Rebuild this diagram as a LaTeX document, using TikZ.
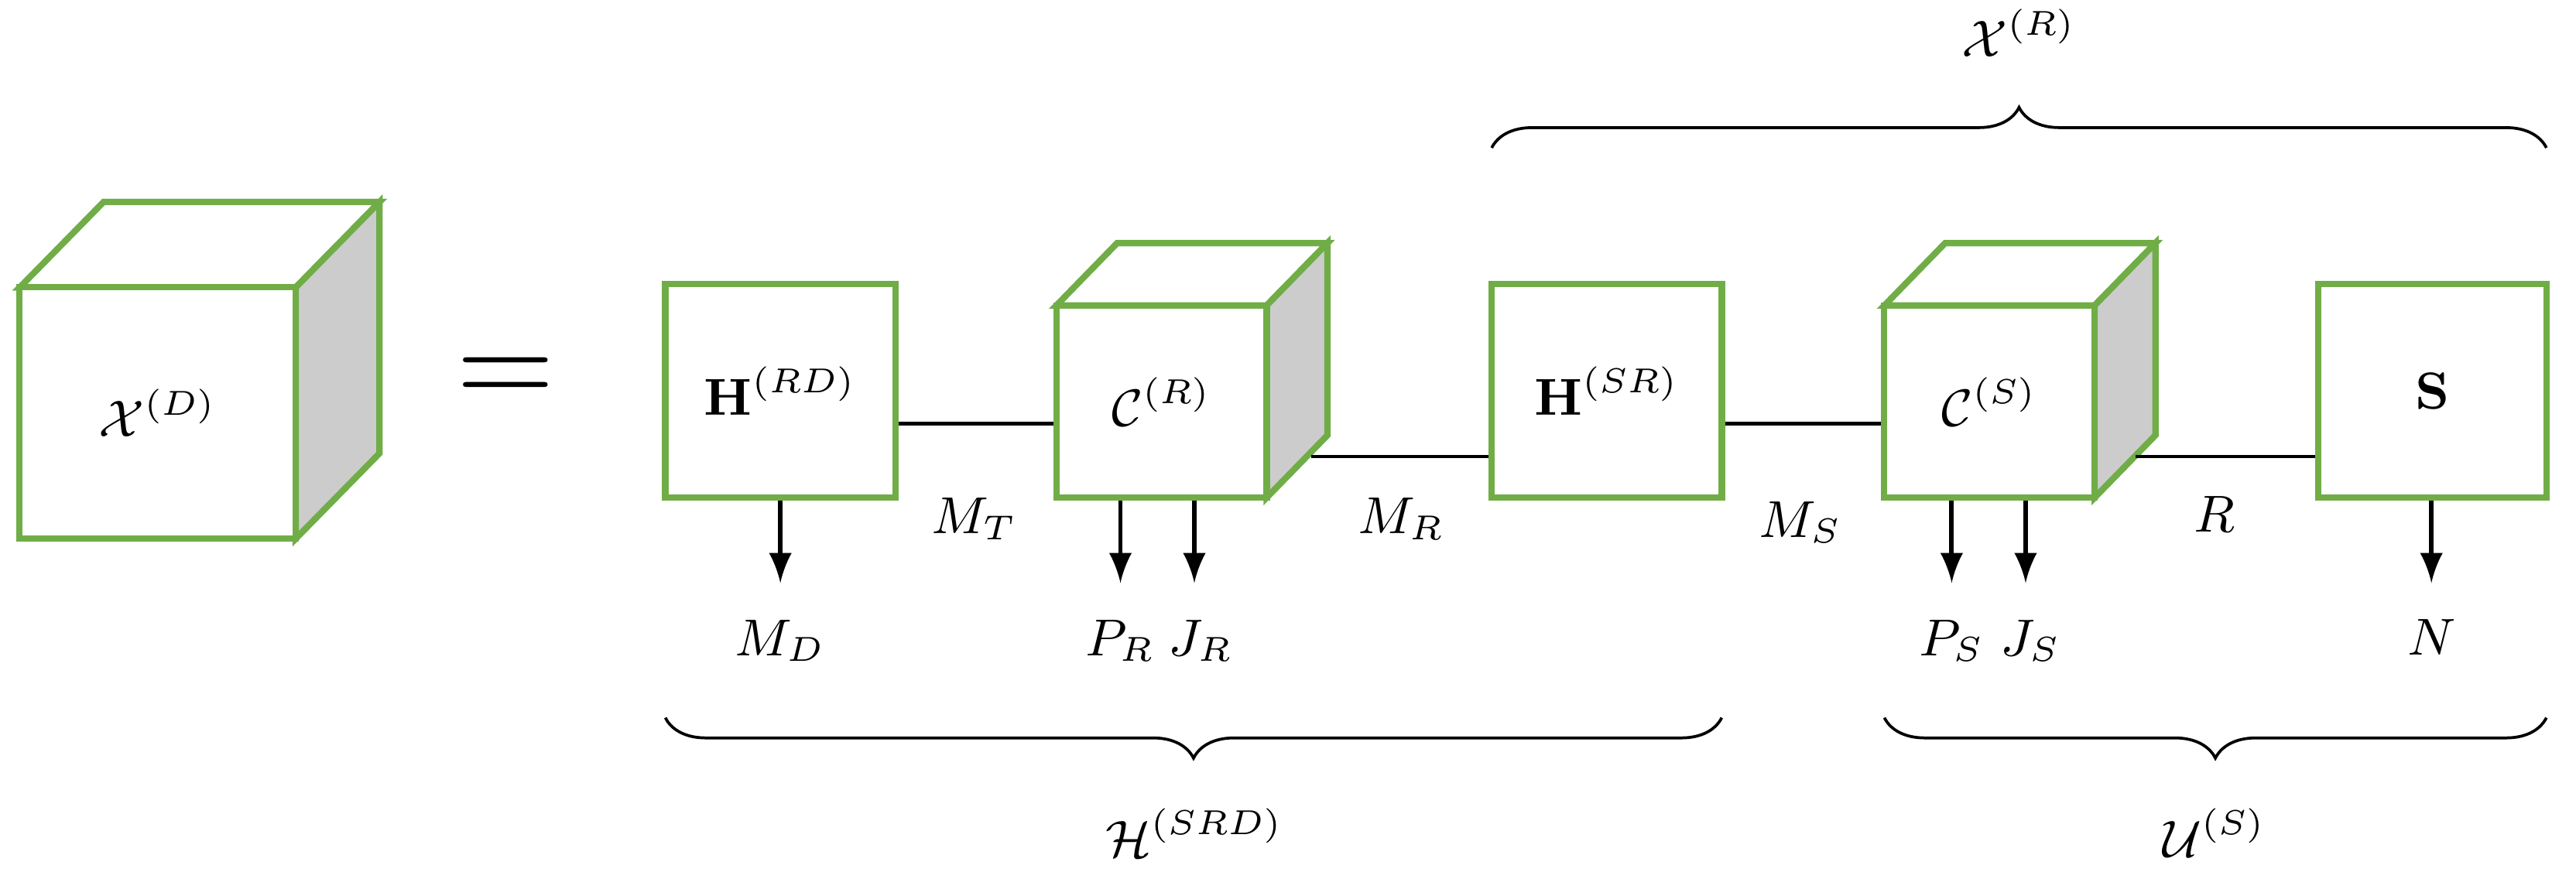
\documentclass[tikz,border=0pt]{standalone}
\usetikzlibrary{decorations.pathreplacing,calc}
\definecolor{grn}{RGB}{112,173,71}
\definecolor{gry}{RGB}{204,204,204}
\begin{document}
\begin{tikzpicture}[x=0.01cm,y=-0.01cm,
  box/.style={draw=grn,line width=1.1pt,fill=white,minimum width=#1,inner sep=0pt},
  face/.style={draw=grn,line width=1.1pt,line join=miter},
  arr/.style={-latex,line width=0.8pt},
  br/.style={decorate,decoration={brace,amplitude=7pt,aspect=0.5},line width=0.5pt},
  lab/.style={inner sep=1pt,font=\small}]
\useasboundingbox (0,0) rectangle (1568,535);
% big cube
\draw[face,fill=white] (12,175) -- (63,123) -- (231,123) -- (180,175) -- cycle;
\draw[face,fill=gry] (180,175) -- (231,123) -- (231,276) -- (180,328) -- cycle;
\node[box=1.68cm,minimum height=1.53cm] (XD) at (96,251.5) {};
\node[font=\small] at (XD) {$\mathcal{X}^{(D)}$};
\node[scale=2.2] (eq) at (308,232) {$=$};
% H(RD)
\node[box=1.40cm,minimum height=1.30cm,font=\small] (HRD) at (475,238) {$\mathbf{H}^{(RD)}$};
% C(R)
\draw[face,fill=white] (643,186) -- (680,148) -- (808,148) -- (771,186) -- cycle;
\draw[face,fill=gry] (771,186) -- (808,148) -- (808,265) -- (771,303) -- cycle;
\node[box=1.28cm,minimum height=1.17cm,font=\small] (CR) at (707,244.5) {$\mathcal{C}^{(R)}$};
% H(SR)
\node[box=1.40cm,minimum height=1.30cm,font=\small] (HSR) at (978,238) {$\mathbf{H}^{(SR)}$};
% C(S)
\draw[face,fill=white] (1147,186) -- (1184,148) -- (1312,148) -- (1275,186) -- cycle;
\draw[face,fill=gry] (1275,186) -- (1312,148) -- (1312,265) -- (1275,303) -- cycle;
\node[box=1.28cm,minimum height=1.17cm,font=\small] (CS) at (1211,244.5) {$\mathcal{C}^{(S)}$};
% S
\node[box=1.39cm,minimum height=1.30cm,font=\small] (S) at (1480.5,238) {$\mathbf{S}$};
% connectors
\coordinate (cr1) at (798,278); \coordinate (cs1) at (1300,278);
\draw[line width=0.6pt] (HRD.east |- 0,258) -- (CR.west |- 0,258);
\draw[line width=0.6pt] (cr1) -- (HSR.west |- cr1);
\draw[line width=0.6pt] (HSR.east |- 0,258) -- (CS.west |- 0,258);
\draw[line width=0.6pt] (cs1) -- (S.west |- cs1);
\node[lab] (MT) at (593,316) {$M_T$};
\node[lab] (MR) at (853,316) {$M_R$};
\node[lab] (MS) at (1096,318) {$M_S$};
\node[lab] (Rl) at (1348,313) {$R$};
% arrows
\coordinate (a1) at (475,355); \coordinate (a2) at (682,355); \coordinate (a3) at (727,355);
\coordinate (a4) at (1188,355); \coordinate (a5) at (1233,355); \coordinate (a6) at (1480,355);
\draw[arr] (HRD.south) -- (a1);
\draw[arr] (CR.south -| a2) -- (a2);
\draw[arr] (CR.south -| a3) -- (a3);
\draw[arr] (CS.south -| a4) -- (a4);
\draw[arr] (CS.south -| a5) -- (a5);
\draw[arr] (S.south -| a6) -- (a6);
\node[lab] (MD) at (475,390) {$M_D$};
\node[lab] (PR) at (682,390) {$P_R$};
\node[lab] (JR) at (731,390) {$J_R$};
\node[lab] (PS) at (1188,390) {$P_S$};
\node[lab] (JS) at (1236,390) {$J_S$};
\node[lab] (N) at (1480,388) {$N$};
% braces
\coordinate (b1) at (405,437); \coordinate (b2) at (1048,437);
\coordinate (b3) at (1147,437); \coordinate (b4) at (1550,437);
\coordinate (b5) at (908,90); \coordinate (b6) at (1550,90);
\draw[br] (b2) -- (b1);
\draw[br] (b4) -- (b3);
\draw[br] (b5) -- (b6);
\node[lab] (HSRD) at (727,507) {$\mathcal{H}^{(SRD)}$};
\node[lab] (US) at (1348,507) {$\mathcal{U}^{(S)}$};
\node[lab] (XR) at (1229,20) {$\mathcal{X}^{(R)}$};
\end{tikzpicture}
\end{document}
